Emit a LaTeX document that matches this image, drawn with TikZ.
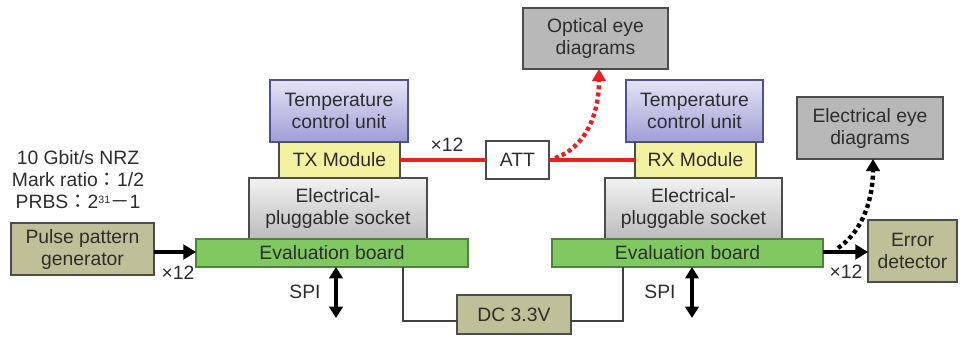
\documentclass[tikz,border=0pt]{standalone}
\usepackage{fontspec}
\setmainfont{Liberation Sans}
\newfontfamily\cjk{Noto Sans CJK JP}
\usetikzlibrary{arrows.meta}
\definecolor{txtc}{RGB}{45,45,45}
\definecolor{tempT}{RGB}{228,228,246}
\definecolor{tempB}{RGB}{158,158,214}
\definecolor{tempD}{RGB}{80,80,150}
\definecolor{sockT}{RGB}{242,242,242}
\definecolor{sockB}{RGB}{188,188,188}
\definecolor{modF}{RGB}{242,242,160}
\definecolor{evalF}{RGB}{128,200,96}
\definecolor{evalD}{RGB}{80,130,60}
\definecolor{oliveF}{RGB}{192,192,152}
\definecolor{eyeF}{RGB}{184,184,184}
\definecolor{redL}{RGB}{232,32,32}
\tikzset{
  wh/.style 2 args={minimum width=#1*0.75pt, minimum height=#2*0.75pt},
  box/.style={draw=black!70, line width=0.8pt, inner sep=0pt, outer sep=0pt, align=center, text=txtc, font=\fontsize{14.5}{16.5}\selectfont},
  tempbox/.style={box, draw=tempD, top color=tempT, bottom color=tempB},
  modbox/.style={box, fill=modF},
  sockbox/.style={box, top color=sockT, bottom color=sockB},
  evalbox/.style={box, draw=evalD, fill=evalF},
  olivebox/.style={box, fill=oliveF},
  eyebox/.style={box, fill=eyeF},
  plainbox/.style={box, fill=white},
  lbl/.style={text=txtc, font=\fontsize{14.5}{16.5}\selectfont, inner sep=0pt, align=center},
  fattip/.style={Triangle[length=9.5pt,width=11pt]},
  fatarrow/.style={line width=3.4pt, -{Triangle[length=9.5pt,width=11pt]}},
  dblarrow/.style={line width=3.4pt, {Triangle[length=8.5pt,width=10pt]}-{Triangle[length=8.5pt,width=10pt]}},
  redline/.style={draw=redL, line width=3pt},
  reddot/.style={draw=redL, line width=3.3pt, dash pattern=on 3pt off 2.4pt, -{Triangle[length=9pt,width=10pt]}},
  blkdot/.style={draw=black, line width=3.3pt, dash pattern=on 3pt off 2.4pt, -{Triangle[length=9pt,width=10pt]}},
  wire/.style={draw=black!75, line width=0.8pt}
}
\begin{document}
\begin{tikzpicture}[x=0.75pt,y=-0.75pt]
\useasboundingbox (0,0) rectangle (961,336);
% left stack
\node[tempbox, wh={138}{62}] (temp1) at (339,111) {Temperature\\control unit};
\node[modbox, wh={121}{35}] (tx) at (339.5,160) {TX Module};
\node[sockbox, wh={178}{61}] (sock1) at (338,208.5) {Electrical-\\pluggable socket};
\node[evalbox, wh={272}{28}] (eval1) at (332,253) {Evaluation board};
% right stack
\node[tempbox, wh={137}{62}] (temp2) at (694.5,111) {Temperature\\control unit};
\node[modbox, wh={121}{35}] (rx) at (695.5,160) {RX Module};
\node[sockbox, wh={177}{61}] (sock2) at (693.5,208.5) {Electrical-\\pluggable socket};
\node[evalbox, wh={271}{28}] (eval2) at (687.5,253) {Evaluation board};
% others
\node[olivebox, wh={143}{52}] (ppg) at (82.5,249) {Pulse pattern\\generator};
\node[plainbox, wh={63}{38}] (att) at (517.5,160) {ATT};
\node[eyebox, wh={145}{61}] (opt) at (595.5,38.5) {Optical eye\\diagrams};
\node[eyebox, wh={146}{62}] (ele) at (870,128) {Electrical eye\\diagrams};
\node[olivebox, wh={89}{62}] (err) at (912.5,251) {Error\\detector};
\node[olivebox, wh={114}{39}] (dc) at (514,314.5) {DC 3.3V};
% text
\node[lbl] (cond) at (78,180) {10 Gbit/s NRZ\\Mark ratio{\cjk ：}1/2\\PRBS{\cjk ：}2\raisebox{0.55ex}{\fontsize{8}{8}\selectfont 31}{\cjk －}1};
\node[lbl] (x12a) at (178,273) {×12};
\node[lbl] (x12b) at (447,145) {×12};
\node[lbl] (x12c) at (846,272) {×12};
\node[lbl] (spi1l) at (305,292) {SPI};
\node[lbl] (spi2l) at (660,292) {SPI};
% coordinates
\coordinate (spi1) at (336,318);
\coordinate (spi2) at (692,318);
\coordinate (dcA) at (403,321);
\coordinate (dcB) at (623,321);
\coordinate (ppgA) at (0,252);
\coordinate (errA) at (0,252);
\coordinate (rdS) at (555,158);
\coordinate (bdS) at (838,248);
% connectors
\draw[fatarrow] (ppg.east |- ppgA) -- (eval1.west |- ppgA);
\draw[fatarrow] (eval2.east |- errA) -- (err.west |- errA);
\draw[dblarrow] (eval1.south -| spi1) -- (spi1);
\draw[dblarrow] (eval2.south -| spi2) -- (spi2);
\draw[wire] (eval1.south -| dcA) -- (dcA) -- (dc.west |- dcA);
\draw[wire] (eval2.south -| dcB) -- (dcB) -- (dc.east |- dcB);
\draw[redline] (tx.east) -- (att.west);
\draw[redline] (att.east) -- (rx.west);
\draw[reddot] (rdS) .. controls (585,148) and (599,115) .. (opt.south -| 599,0);
\draw[blkdot] (bdS) .. controls (862,232) and (873,200) .. (ele.south -| 873,0);
\end{tikzpicture}
\end{document}
